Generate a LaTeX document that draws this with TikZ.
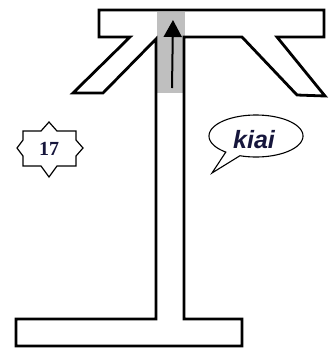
\documentclass[tikz,border=0pt]{standalone}
\usepackage{fontspec}
\usetikzlibrary{arrows.meta}
\newfontfamily\serifbold{Liberation Serif}
\newfontfamily\sansfont{Liberation Sans}
\definecolor{inkblue}{HTML}{16163C}
\tikzset{
  frame/.style={draw=black, line width=2.8pt, line join=miter},
  badge/.style={draw=black, line width=1.2pt, fill=white, line join=miter},
  bubble/.style={draw=black, line width=1.1pt, fill=white},
  pointer/.style={draw=black, line width=2pt, -{Triangle[length=17pt,width=18pt]}},
}
\begin{document}
\begin{tikzpicture}[x=1pt,y=-1pt]
\useasboundingbox (0,0) rectangle (330,349);
% grey channel
\fill[black!25] (157,12) rectangle (185,93);
% main frame: top bar, arms, stem, base
\draw[frame] (99,10) -- (324,10) -- (324,37) -- (277,37) -- (325,96) -- (297,95)
  -- (242,37) -- (184,37) -- (184,319) -- (242,319) -- (242,346) -- (16,346)
  -- (16,319) -- (156,319) -- (156,39) -- (103,93) -- (73,93) -- (130,37)
  -- (99,37) -- cycle;
% arrow in channel
\coordinate (tail) at (172,88);
\coordinate (head) at (173,20);
\draw[pointer] (tail) -- (head);
% star badge
\draw[badge] (49,122) -- (57,131) -- (76,131) -- (76,140) -- (83,148) -- (76,156)
  -- (76,166) -- (57,166) -- (49,177) -- (41,166) -- (23,166) -- (23,156)
  -- (17,148) -- (23,140) -- (23,131) -- (41,131) -- cycle;
\node[text=inkblue, font=\serifbold\bfseries\fontsize{20}{20}\selectfont] (num) at (49,149) {17};
% speech bubble
\draw[bubble] (212,173) -- ({256+47*cos(110)},{136+21*sin(110)})
  -- plot[domain=110:-230, samples=90, smooth] ({256+47*cos(\x)},{136+21*sin(\x)})
  -- cycle;
\node[text=inkblue, font=\sansfont\bfseries\itshape\fontsize{25}{25}\selectfont] (kiai) at (254,140) {kiai};
\end{tikzpicture}
\end{document}
